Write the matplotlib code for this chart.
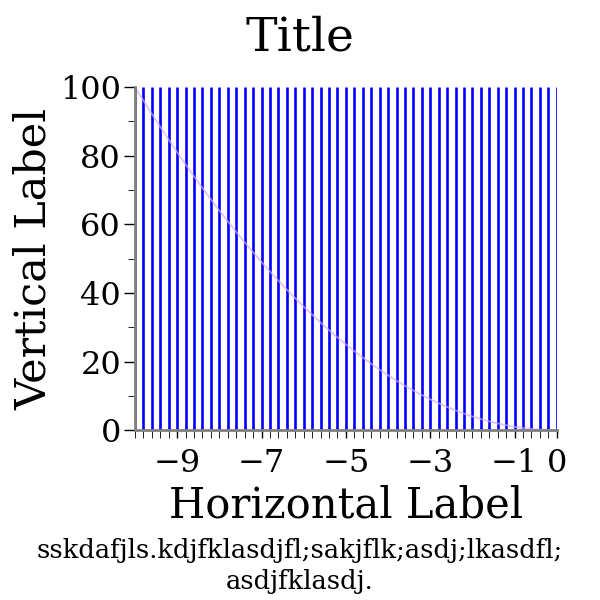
import matplotlib
matplotlib.use("Agg")
import matplotlib.pyplot as plt
from matplotlib.ticker import FixedLocator

# data
line_x = [-10.0, -9.8, -9.6, -9.4, -9.2, -9.0, -8.8, -8.6, -8.4, -8.2,
          -8.0, -7.8, -7.6, -7.4, -7.2, -7.0, -6.8, -6.6, -6.4, -6.2,
          -6.0, -5.8, -5.6, -5.4, -5.2, -5.0, -4.8, -4.6, -4.4, -4.2,
          -4.0, -3.8, -3.6, -3.4, -3.2, -3.0, -2.8, -2.6, -2.4, -2.2,
          -2.0, -1.8, -1.6, -1.4, -1.2, -1.0, -0.8, -0.6, -0.4, -0.2, 0.0]
line_top = [100] * len(line_x)
curve_y = [100.0, 96.04, 92.16, 88.36, 84.64, 81.0, 77.44, 73.96, 70.56, 67.24,
           64.0, 60.84, 57.76, 54.76, 51.84, 49.0, 46.24, 43.56, 40.96, 38.44,
           36.0, 33.64, 31.36, 29.16, 27.04, 25.0, 23.04, 21.16, 19.36, 17.64,
           16.0, 14.44, 12.96, 11.56, 10.24, 9.0, 7.84, 6.76, 5.76, 4.84,
           4.0, 3.24, 2.56, 1.96, 1.44, 1.0, 0.64, 0.36, 0.16, 0.04, 0.0]
xtick_pos = [-9, -7, -5, -3, -1, 0]
ytick_pos = [0, 20, 40, 60, 80, 100]
yminor_pos = [10, 30, 50, 70, 90]

plt.rcParams['font.family'] = ['DejaVu Serif']

fig = plt.figure(figsize=(6, 6), dpi=100)
ax = fig.add_axes([0.225, 0.283, 0.703, 0.572])

ax.vlines(line_x, 0, line_top, colors='blue', linewidth=1.9)
ax.plot(line_x, curve_y, color='#d4aaff', alpha=0.7, linewidth=1.3)

ax.set_xlim(-10, 0)
ax.set_ylim(0, 100)
ax.set_xticks(xtick_pos)
ax.xaxis.set_minor_locator(FixedLocator(line_x))
ax.set_yticks(ytick_pos)
ax.yaxis.set_minor_locator(FixedLocator(yminor_pos))

for side in ['top', 'right']:
    ax.spines[side].set_visible(False)
for side in ['left', 'bottom']:
    ax.spines[side].set_color('#808080')
    ax.spines[side].set_linewidth(2)

ax.tick_params(axis='both', which='major', labelsize=23, direction='out', width=1, color='black')
ax.tick_params(axis='x', which='both', length=6, pad=7)
ax.tick_params(axis='y', which='major', length=8, pad=2)
ax.tick_params(axis='y', which='minor', length=5)

ax.set_xlabel('Horizontal Label', fontsize=30, labelpad=4)
ax.set_ylabel('Vertical Label', fontsize=31, labelpad=4)

fig.text(0.5, 0.937, 'Title', ha='center', va='center', fontsize=34)
fig.text(0.5, 0.056, 'sskdafjls.kdjfklasdjfl;sakjflk;asdj;lkasdfl;\nasdjfklasdj.',
         ha='center', va='center', fontsize=18.5, linespacing=1.3)

fig.savefig('out.png', dpi=100)
